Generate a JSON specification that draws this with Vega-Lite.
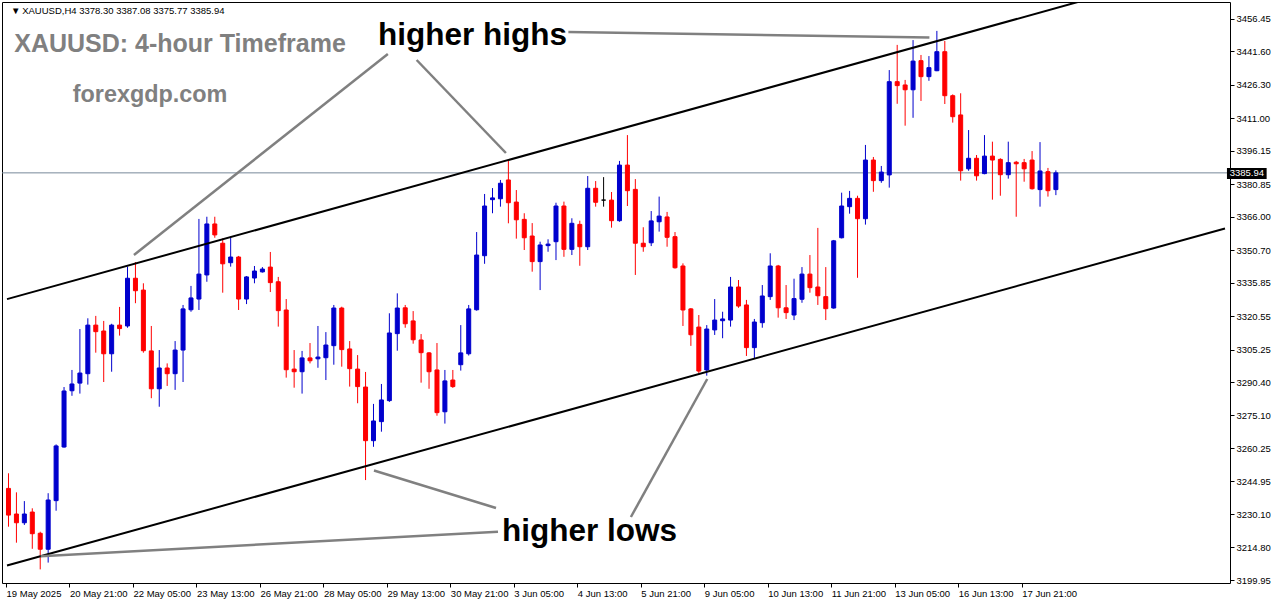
{
  "$schema": "https://vega.github.io/schema/vega-lite/v6.json",
  "width": 1228,
  "height": 581,
  "autosize": {"type": "none"},
  "padding": {"left": 2, "top": 2, "right": 46, "bottom": 21},
  "background": "white",
  "config": {"view": {"stroke": "black", "strokeWidth": 1}},
  "resolve": {"axis": {"x": "independent", "y": "independent"}},
  "datasets": {
    "candles": [
      {"i":0,"o":3241.8,"h":3248.7,"l":3224.3,"c":3229.6},
      {"i":1,"o":3230.1,"h":3240.0,"l":3217.0,"c":3226.1},
      {"i":2,"o":3226.1,"h":3236.0,"l":3225.1,"c":3230.1},
      {"i":3,"o":3231.0,"h":3232.7,"l":3214.2,"c":3221.1},
      {"i":4,"o":3221.3,"h":3222.0,"l":3204.8,"c":3214.0},
      {"i":5,"o":3214.0,"h":3239.6,"l":3207.9,"c":3236.5},
      {"i":6,"o":3236.2,"h":3261.9,"l":3231.6,"c":3261.2},
      {"i":7,"o":3260.7,"h":3288.1,"l":3260.4,"c":3286.3},
      {"i":8,"o":3286.4,"h":3295.9,"l":3284.1,"c":3289.5},
      {"i":9,"o":3289.9,"h":3314.6,"l":3285.1,"c":3294.5},
      {"i":10,"o":3294.2,"h":3319.5,"l":3289.2,"c":3316.4},
      {"i":11,"o":3316.4,"h":3320.6,"l":3303.8,"c":3313.4},
      {"i":12,"o":3313.7,"h":3318.3,"l":3290.4,"c":3303.3},
      {"i":13,"o":3303.3,"h":3317.0,"l":3295.1,"c":3316.4},
      {"i":14,"o":3316.4,"h":3324.7,"l":3311.6,"c":3314.8},
      {"i":15,"o":3316.0,"h":3343.1,"l":3315.2,"c":3337.8},
      {"i":16,"o":3337.8,"h":3345.2,"l":3326.4,"c":3332.1},
      {"i":17,"o":3332.4,"h":3335.5,"l":3303.8,"c":3304.7},
      {"i":18,"o":3304.6,"h":3316.0,"l":3283.0,"c":3287.3},
      {"i":19,"o":3287.3,"h":3305.0,"l":3279.1,"c":3296.8},
      {"i":20,"o":3296.8,"h":3298.9,"l":3288.6,"c":3294.2},
      {"i":21,"o":3294.2,"h":3309.1,"l":3286.8,"c":3305.0},
      {"i":22,"o":3305.0,"h":3325.6,"l":3290.4,"c":3323.8},
      {"i":23,"o":3323.4,"h":3334.3,"l":3322.5,"c":3328.8},
      {"i":24,"o":3328.3,"h":3364.9,"l":3323.3,"c":3339.7},
      {"i":25,"o":3339.3,"h":3365.9,"l":3336.2,"c":3362.6},
      {"i":26,"o":3362.6,"h":3365.9,"l":3356.3,"c":3357.6},
      {"i":27,"o":3353.8,"h":3356.0,"l":3331.2,"c":3344.4},
      {"i":28,"o":3344.9,"h":3356.8,"l":3343.1,"c":3347.5},
      {"i":29,"o":3347.5,"h":3348.0,"l":3323.3,"c":3328.3},
      {"i":30,"o":3328.3,"h":3338.8,"l":3326.0,"c":3338.4},
      {"i":31,"o":3337.9,"h":3343.4,"l":3335.5,"c":3341.1},
      {"i":32,"o":3340.7,"h":3342.9,"l":3340.4,"c":3342.0},
      {"i":33,"o":3342.9,"h":3349.8,"l":3331.5,"c":3335.8},
      {"i":34,"o":3336.2,"h":3338.4,"l":3315.7,"c":3323.0},
      {"i":35,"o":3323.3,"h":3328.3,"l":3292.4,"c":3296.0},
      {"i":36,"o":3296.3,"h":3305.0,"l":3287.8,"c":3295.1},
      {"i":37,"o":3295.1,"h":3304.6,"l":3285.1,"c":3301.4},
      {"i":38,"o":3301.4,"h":3308.2,"l":3298.9,"c":3300.1},
      {"i":39,"o":3301.0,"h":3316.0,"l":3296.9,"c":3301.8},
      {"i":40,"o":3301.5,"h":3313.2,"l":3291.3,"c":3307.3},
      {"i":41,"o":3307.0,"h":3325.6,"l":3298.3,"c":3324.2},
      {"i":42,"o":3324.2,"h":3324.8,"l":3297.4,"c":3305.2},
      {"i":43,"o":3305.5,"h":3309.1,"l":3288.3,"c":3296.5},
      {"i":44,"o":3296.3,"h":3302.7,"l":3280.7,"c":3288.3},
      {"i":45,"o":3288.1,"h":3295.0,"l":3245.6,"c":3263.6},
      {"i":46,"o":3263.6,"h":3280.4,"l":3260.8,"c":3272.6},
      {"i":47,"o":3272.3,"h":3289.5,"l":3267.7,"c":3282.2},
      {"i":48,"o":3281.9,"h":3321.8,"l":3281.3,"c":3312.8},
      {"i":49,"o":3312.5,"h":3330.9,"l":3304.7,"c":3324.2},
      {"i":50,"o":3324.3,"h":3325.6,"l":3315.2,"c":3317.0},
      {"i":51,"o":3318.3,"h":3322.8,"l":3307.9,"c":3309.7},
      {"i":52,"o":3309.6,"h":3312.3,"l":3290.1,"c":3303.8},
      {"i":53,"o":3303.7,"h":3304.1,"l":3287.3,"c":3295.1},
      {"i":54,"o":3295.9,"h":3308.2,"l":3275.0,"c":3276.4},
      {"i":55,"o":3276.8,"h":3295.9,"l":3271.4,"c":3290.9},
      {"i":56,"o":3291.3,"h":3295.9,"l":3287.7,"c":3288.3},
      {"i":57,"o":3298.3,"h":3316.4,"l":3295.6,"c":3303.7},
      {"i":58,"o":3303.3,"h":3325.6,"l":3302.5,"c":3323.8},
      {"i":59,"o":3323.4,"h":3358.9,"l":3323.0,"c":3348.4},
      {"i":60,"o":3348.1,"h":3376.3,"l":3344.4,"c":3370.8},
      {"i":61,"o":3373.7,"h":3379.0,"l":3367.5,"c":3374.5},
      {"i":62,"o":3374.1,"h":3382.7,"l":3370.5,"c":3381.2},
      {"i":63,"o":3382.7,"h":3391.8,"l":3362.9,"c":3372.3},
      {"i":64,"o":3372.6,"h":3378.1,"l":3355.9,"c":3364.5},
      {"i":65,"o":3364.7,"h":3367.5,"l":3350.7,"c":3356.3},
      {"i":66,"o":3357.1,"h":3363.0,"l":3340.8,"c":3345.4},
      {"i":67,"o":3345.4,"h":3354.5,"l":3332.4,"c":3353.0},
      {"i":68,"o":3352.7,"h":3355.6,"l":3349.9,"c":3353.4},
      {"i":69,"o":3354.5,"h":3372.3,"l":3346.1,"c":3370.8},
      {"i":70,"o":3370.8,"h":3372.8,"l":3347.6,"c":3351.0},
      {"i":71,"o":3351.0,"h":3365.2,"l":3348.4,"c":3362.9},
      {"i":72,"o":3362.4,"h":3364.1,"l":3343.5,"c":3352.2},
      {"i":73,"o":3352.2,"h":3384.5,"l":3350.7,"c":3378.9},
      {"i":74,"o":3378.9,"h":3382.2,"l":3370.5,"c":3372.5},
      {"i":75,"o":3373.5,"h":3384.0,"l":3370.5,"c":3373.5},
      {"i":76,"o":3373.5,"h":3377.2,"l":3360.9,"c":3364.1},
      {"i":77,"o":3364.1,"h":3391.4,"l":3363.6,"c":3389.5},
      {"i":78,"o":3389.5,"h":3403.2,"l":3370.8,"c":3377.8},
      {"i":79,"o":3378.4,"h":3383.1,"l":3339.3,"c":3353.8},
      {"i":80,"o":3353.8,"h":3361.1,"l":3349.9,"c":3352.2},
      {"i":81,"o":3354.0,"h":3368.5,"l":3352.5,"c":3364.0},
      {"i":82,"o":3363.6,"h":3375.1,"l":3359.1,"c":3366.2},
      {"i":83,"o":3365.8,"h":3368.1,"l":3352.2,"c":3356.5},
      {"i":84,"o":3356.8,"h":3358.9,"l":3342.2,"c":3342.6},
      {"i":85,"o":3343.4,"h":3344.6,"l":3316.0,"c":3323.3},
      {"i":86,"o":3323.8,"h":3324.2,"l":3306.9,"c":3312.0},
      {"i":87,"o":3315.5,"h":3321.0,"l":3294.4,"c":3295.4},
      {"i":88,"o":3295.9,"h":3316.4,"l":3293.3,"c":3314.6},
      {"i":89,"o":3314.2,"h":3328.3,"l":3311.9,"c":3318.7},
      {"i":90,"o":3318.4,"h":3322.5,"l":3310.4,"c":3319.2},
      {"i":91,"o":3318.7,"h":3338.4,"l":3315.7,"c":3333.8},
      {"i":92,"o":3333.8,"h":3337.0,"l":3324.3,"c":3325.1},
      {"i":93,"o":3325.6,"h":3327.9,"l":3302.3,"c":3306.1},
      {"i":94,"o":3306.1,"h":3319.2,"l":3301.2,"c":3317.8},
      {"i":95,"o":3317.5,"h":3334.7,"l":3315.2,"c":3329.7},
      {"i":96,"o":3329.4,"h":3349.2,"l":3327.9,"c":3343.4},
      {"i":97,"o":3343.4,"h":3343.9,"l":3319.8,"c":3324.3},
      {"i":98,"o":3324.3,"h":3334.7,"l":3319.2,"c":3322.1},
      {"i":99,"o":3321.0,"h":3337.6,"l":3318.7,"c":3328.5},
      {"i":100,"o":3328.2,"h":3342.9,"l":3326.6,"c":3339.7},
      {"i":101,"o":3339.7,"h":3348.4,"l":3331.2,"c":3333.5},
      {"i":102,"o":3333.8,"h":3360.8,"l":3325.6,"c":3329.8},
      {"i":103,"o":3329.4,"h":3342.9,"l":3318.7,"c":3323.9},
      {"i":104,"o":3324.2,"h":3355.3,"l":3323.9,"c":3354.9},
      {"i":105,"o":3356.3,"h":3376.9,"l":3356.0,"c":3370.8},
      {"i":106,"o":3370.5,"h":3377.7,"l":3367.3,"c":3374.3},
      {"i":107,"o":3374.3,"h":3375.5,"l":3338.0,"c":3365.0},
      {"i":108,"o":3365.0,"h":3398.7,"l":3362.3,"c":3391.8},
      {"i":109,"o":3391.8,"h":3393.2,"l":3377.3,"c":3382.4},
      {"i":110,"o":3382.4,"h":3389.1,"l":3381.4,"c":3386.3},
      {"i":111,"o":3385.0,"h":3432.9,"l":3379.2,"c":3427.6},
      {"i":112,"o":3427.6,"h":3444.4,"l":3417.5,"c":3425.8},
      {"i":113,"o":3426.1,"h":3428.4,"l":3407.5,"c":3423.9},
      {"i":114,"o":3423.9,"h":3446.6,"l":3411.1,"c":3437.0},
      {"i":115,"o":3437.2,"h":3439.8,"l":3418.8,"c":3429.9},
      {"i":116,"o":3429.9,"h":3439.3,"l":3428.0,"c":3434.0},
      {"i":117,"o":3432.6,"h":3450.8,"l":3432.4,"c":3441.3},
      {"i":118,"o":3441.3,"h":3446.2,"l":3417.4,"c":3421.2},
      {"i":119,"o":3421.2,"h":3421.8,"l":3408.9,"c":3411.6},
      {"i":120,"o":3412.4,"h":3422.3,"l":3382.4,"c":3386.9},
      {"i":121,"o":3387.8,"h":3405.5,"l":3386.9,"c":3392.6},
      {"i":122,"o":3392.6,"h":3394.1,"l":3382.4,"c":3384.6},
      {"i":123,"o":3385.6,"h":3403.2,"l":3385.3,"c":3393.6},
      {"i":124,"o":3393.6,"h":3400.2,"l":3373.7,"c":3391.8},
      {"i":125,"o":3392.1,"h":3392.6,"l":3375.5,"c":3385.1},
      {"i":126,"o":3385.1,"h":3400.2,"l":3383.3,"c":3390.6},
      {"i":127,"o":3390.8,"h":3391.4,"l":3365.9,"c":3390.1},
      {"i":128,"o":3390.6,"h":3392.3,"l":3381.9,"c":3387.8},
      {"i":129,"o":3391.8,"h":3395.9,"l":3378.3,"c":3378.7},
      {"i":130,"o":3378.3,"h":3400.0,"l":3370.5,"c":3386.8},
      {"i":131,"o":3386.5,"h":3388.2,"l":3375.1,"c":3377.8},
      {"i":132,"o":3378.30,"h":3387.08,"l":3375.77,"c":3385.94}
    ],
    "lines": [
      {"id":"upper","g":"channel","i":-0.1875,"p":3328.25},
      {"id":"upper","g":"channel","i":137.06,"p":3466.3},
      {"id":"lower","g":"channel","i":-0.1875,"p":3206.58},
      {"id":"lower","g":"channel","i":153.3125,"p":3360.55},
      {"id":"a1","g":"note","i":47.81,"p":3440.24},
      {"id":"a1","g":"note","i":15.81,"p":3348.42},
      {"id":"a2","g":"note","i":51.44,"p":3437.5},
      {"id":"a2","g":"note","i":62.69,"p":3395.02},
      {"id":"a3","g":"note","i":70.56,"p":3450.29},
      {"id":"a3","g":"note","i":116.06,"p":3447.78},
      {"id":"a4","g":"note","i":46.06,"p":3249.97},
      {"id":"a4","g":"note","i":61.44,"p":3232.84},
      {"id":"a5","g":"note","i":4.06,"p":3210.82},
      {"id":"a5","g":"note","i":61.69,"p":3221.97},
      {"id":"a6","g":"note","i":78.44,"p":3228.73},
      {"id":"a6","g":"note","i":88.06,"p":3291.77}
    ]
  },
  "layer": [
    {
      "data": {"values": [{"p": 3385.94}]},
      "mark": {"type": "rule", "color": "#778899", "strokeWidth": 1},
      "encoding": {
        "y": {"field": "p", "type": "quantitative", "scale": {"type": "linear", "domain": [3198.58, 3464.0], "nice": false, "zero": false}, "axis": null}
      }
    },
    {
      "data": {"name": "candles"},
      "mark": {"type": "rule", "strokeWidth": 1},
      "encoding": {
        "x": {"field": "i", "type": "quantitative", "scale": {"type": "linear", "domain": [-0.1875, 153.3125], "nice": false, "zero": false}, "axis": null},
        "y": {"field": "l", "type": "quantitative", "scale": {"type": "linear", "domain": [3198.58, 3464.0], "nice": false, "zero": false}, "axis": null},
        "y2": {"field": "h"},
        "color": {"condition": [{"test": "datum.c > datum.o", "value": "#0000CD"}, {"test": "datum.c < datum.o", "value": "#FF0000"}], "value": "#000000"}
      }
    },
    {
      "data": {"name": "candles"},
      "mark": {"type": "bar", "size": 4, "strokeWidth": 1},
      "encoding": {
        "x": {"field": "i", "type": "quantitative", "scale": {"type": "linear", "domain": [-0.1875, 153.3125], "nice": false, "zero": false},
          "axis": {"orient": "bottom", "values": [-0.3125,7.6875,15.6875,23.6875,31.6875,39.6875,47.6875,55.6875,63.6875,71.6875,79.6875,87.6875,95.6875,103.6875,111.6875,119.6875,127.6875],
            "labelExpr": "['19 May 2025','20 May 21:00','22 May 05:00','23 May 13:00','26 May 21:00','28 May 05:00','29 May 13:00','30 May 21:00','3 Jun 05:00','4 Jun 13:00','5 Jun 21:00','9 Jun 05:00','10 Jun 13:00','11 Jun 21:00','13 Jun 05:00','16 Jun 13:00','17 Jun 21:00'][round((datum.value+0.3125)/8)]",
            "domain": false, "grid": false, "title": null, "tickSize": 4, "tickColor": "black", "tickWidth": 1,
            "labelAlign": "left", "labelBaseline": "top", "labelPadding": 1, "labelFont": "Liberation Sans", "labelFontSize": 9.5, "labelColor": "black",
            "labelOverlap": false, "labelBound": false, "labelFlush": false}},
        "y": {"field": "o", "type": "quantitative", "scale": {"type": "linear", "domain": [3198.58, 3464.0], "nice": false, "zero": false},
          "axis": {"orient": "right", "values": [3199.95,3214.80,3230.10,3244.95,3260.25,3275.10,3290.40,3305.25,3320.55,3335.85,3350.70,3366.00,3380.85,3396.15,3411.00,3426.30,3441.60,3456.45],
            "format": ".2f", "domain": false, "grid": false, "title": null, "tickSize": 4, "tickColor": "black", "tickWidth": 1,
            "labelPadding": 2, "labelFont": "Liberation Sans", "labelFontSize": 9.5, "labelColor": "black", "labelBaseline": "middle",
            "labelOverlap": false, "labelBound": false, "labelFlush": false}},
        "y2": {"field": "c"},
        "fill": {"condition": [{"test": "datum.c > datum.o", "value": "#0000CD"}, {"test": "datum.c < datum.o", "value": "#FF0000"}], "value": "#000000"},
        "stroke": {"condition": [{"test": "datum.c > datum.o", "value": "#0000CD"}, {"test": "datum.c < datum.o", "value": "#FF0000"}], "value": "#000000"}
      }
    },
    {
      "data": {"name": "lines"},
      "transform": [{"filter": "datum.g == 'channel'"}],
      "mark": {"type": "line", "color": "black", "strokeWidth": 2, "clip": true},
      "encoding": {
        "x": {"field": "i", "type": "quantitative", "scale": {"type": "linear", "domain": [-0.1875, 153.3125], "nice": false, "zero": false}, "axis": null},
        "y": {"field": "p", "type": "quantitative", "scale": {"type": "linear", "domain": [3198.58, 3464.0], "nice": false, "zero": false}, "axis": null},
        "detail": {"field": "id"}
      }
    },
    {
      "data": {"name": "lines"},
      "transform": [{"filter": "datum.g == 'note'"}],
      "mark": {"type": "line", "color": "#808080", "strokeWidth": 2.5, "clip": true},
      "encoding": {
        "x": {"field": "i", "type": "quantitative", "scale": {"type": "linear", "domain": [-0.1875, 153.3125], "nice": false, "zero": false}, "axis": null},
        "y": {"field": "p", "type": "quantitative", "scale": {"type": "linear", "domain": [3198.58, 3464.0], "nice": false, "zero": false}, "axis": null},
        "detail": {"field": "id"}
      }
    },
    {
      "data": {"values": [{"t": "higher highs", "i": 46.56, "p": 3444.35}, {"t": "higher lows", "i": 62.19, "p": 3217.76}]},
      "mark": {"type": "text", "align": "left", "baseline": "alphabetic", "font": "Liberation Sans", "fontWeight": "bold", "fontSize": 31.5, "color": "black"},
      "encoding": {
        "x": {"field": "i", "type": "quantitative", "scale": {"type": "linear", "domain": [-0.1875, 153.3125], "nice": false, "zero": false}, "axis": null},
        "y": {"field": "p", "type": "quantitative", "scale": {"type": "linear", "domain": [3198.58, 3464.0], "nice": false, "zero": false}, "axis": null},
        "text": {"field": "t"}
      }
    },
    {
      "data": {"values": [{"t": "XAUUSD: 4-hour Timeframe", "i": 0.725, "p": 3441.3}]},
      "mark": {"type": "text", "align": "left", "baseline": "alphabetic", "font": "Liberation Sans", "fontWeight": "bold", "fontSize": 25, "color": "#808080"},
      "encoding": {
        "x": {"field": "i", "type": "quantitative", "scale": {"type": "linear", "domain": [-0.1875, 153.3125], "nice": false, "zero": false}, "axis": null},
        "y": {"field": "p", "type": "quantitative", "scale": {"type": "linear", "domain": [3198.58, 3464.0], "nice": false, "zero": false}, "axis": null},
        "text": {"field": "t"}
      }
    },
    {
      "data": {"values": [{"t": "forexgdp.com", "i": 8.1, "p": 3418.45}]},
      "mark": {"type": "text", "align": "left", "baseline": "alphabetic", "font": "Liberation Sans", "fontWeight": "bold", "fontSize": 23.4, "color": "#808080"},
      "encoding": {
        "x": {"field": "i", "type": "quantitative", "scale": {"type": "linear", "domain": [-0.1875, 153.3125], "nice": false, "zero": false}, "axis": null},
        "y": {"field": "p", "type": "quantitative", "scale": {"type": "linear", "domain": [3198.58, 3464.0], "nice": false, "zero": false}, "axis": null},
        "text": {"field": "t"}
      }
    },
    {
      "data": {"values": [{"t": "▼", "i": 0.3125, "p": 3459.9}, {"t": "XAUUSD,H4  3378.30 3387.08 3375.77 3385.94", "i": 1.725, "p": 3459.9}]},
      "mark": {"type": "text", "align": "left", "baseline": "middle", "font": "Liberation Sans", "fontSize": 9.5, "color": "black"},
      "encoding": {
        "x": {"field": "i", "type": "quantitative", "scale": {"type": "linear", "domain": [-0.1875, 153.3125], "nice": false, "zero": false}, "axis": null},
        "y": {"field": "p", "type": "quantitative", "scale": {"type": "linear", "domain": [3198.58, 3464.0], "nice": false, "zero": false}, "axis": null},
        "text": {"field": "t"}
      }
    },
    {
      "data": {"values": [{"x1": 153.56, "x2": 158.56, "y1": 3383.14, "y2": 3388.16}]},
      "mark": {"type": "rect", "color": "black", "clip": false},
      "encoding": {
        "x": {"field": "x1", "type": "quantitative", "scale": {"type": "linear", "domain": [-0.1875, 153.3125], "nice": false, "zero": false}, "axis": null},
        "x2": {"field": "x2"},
        "y": {"field": "y1", "type": "quantitative", "scale": {"type": "linear", "domain": [3198.58, 3464.0], "nice": false, "zero": false}, "axis": null},
        "y2": {"field": "y2"}
      }
    },
    {
      "data": {"values": [{"t": "3385.94", "i": 156.06, "p": 3385.94}]},
      "mark": {"type": "text", "align": "center", "baseline": "middle", "font": "Liberation Sans", "fontSize": 9.5, "color": "white", "clip": false},
      "encoding": {
        "x": {"field": "i", "type": "quantitative", "scale": {"type": "linear", "domain": [-0.1875, 153.3125], "nice": false, "zero": false}, "axis": null},
        "y": {"field": "p", "type": "quantitative", "scale": {"type": "linear", "domain": [3198.58, 3464.0], "nice": false, "zero": false}, "axis": null},
        "text": {"field": "t"}
      }
    }
  ]
}
